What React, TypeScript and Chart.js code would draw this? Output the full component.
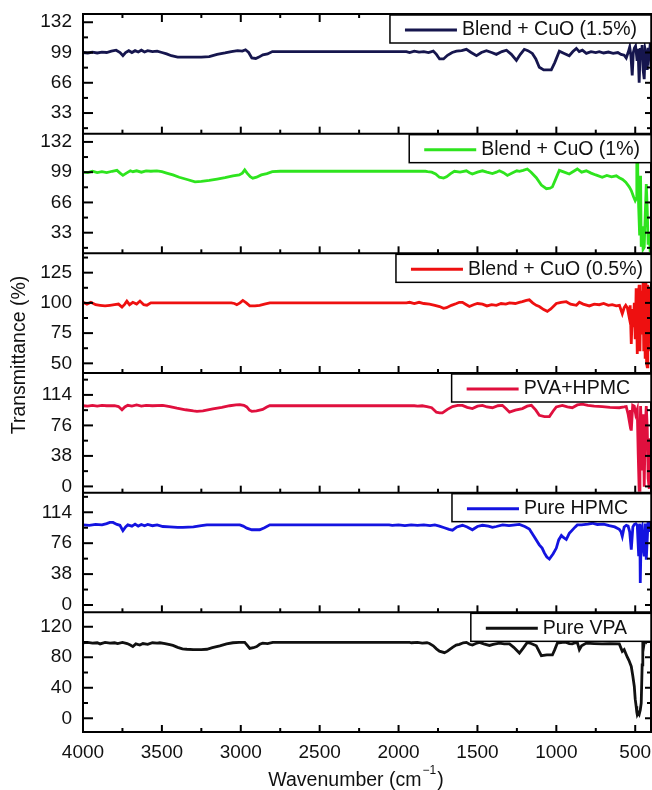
import React, { useEffect, useRef } from 'react';
import { Chart, registerables } from 'chart.js';

Chart.register(...registerables);

// ---- Data: [wavenumber (cm^-1), transmittance (%)] ----
const blendCuO15: [number, number][] = [
  [4000, 99], [3970, 98.5], [3940, 99.5], [3910, 98.5], [3880, 99.5], [3850, 99], [3820, 100.5], [3790, 101.5],
  [3765, 99], [3747, 95.5], [3730, 99], [3710, 101], [3690, 99], [3670, 101], [3650, 99.5], [3630, 101.5],
  [3610, 99.5], [3590, 101], [3560, 100], [3530, 100.5], [3500, 99], [3470, 97.5], [3440, 95.5], [3400, 94],
  [3350, 94], [3300, 94], [3250, 94], [3200, 94.5], [3150, 97], [3100, 98.5], [3060, 100], [3020, 101],
  [2990, 100.5], [2970, 102], [2950, 99], [2930, 93], [2905, 92.5], [2885, 94], [2860, 96.5], [2830, 97.5],
  [2800, 100], [2500, 100], [1950, 100], [1930, 99], [1900, 100.5], [1870, 99.5], [1840, 100], [1810, 99],
  [1780, 100.5], [1760, 97], [1740, 92], [1715, 92], [1690, 96], [1660, 99], [1633, 100.5], [1600, 101],
  [1570, 102.5], [1540, 99], [1506, 95.5], [1475, 99], [1443, 101], [1410, 99], [1380, 97], [1345, 100],
  [1316, 101.5], [1285, 97], [1253, 90.5], [1228, 97], [1203, 102.5], [1180, 101], [1152, 98], [1130, 92],
  [1108, 83], [1080, 80], [1050, 80], [1032, 80], [1010, 88], [981, 100.5], [950, 98], [918, 95.5],
  [895, 100], [873, 103.5], [855, 100], [835, 101.5], [810, 98], [780, 100], [750, 99], [728, 100],
  [700, 98.5], [670, 99.5], [640, 98], [610, 99], [590, 97], [570, 96], [557, 93], [545, 99],
  [535, 105], [527, 95], [519, 74], [512, 99], [505, 104], [498, 106], [494, 100], [488, 90],
  [482, 103], [475, 66], [468, 104], [462, 95], [456, 107], [450, 80], [443, 70], [437, 102],
  [430, 96], [424, 80], [418, 104], [412, 96], [406, 106], [400, 100],
];

const blendCuO1: [number, number][] = [
  [4000, 99], [3970, 98.5], [3940, 100], [3910, 98.5], [3880, 99.5], [3850, 98.5], [3815, 100], [3785, 101],
  [3765, 98], [3747, 95.5], [3725, 98], [3700, 100.5], [3684, 99.5], [3660, 100.5], [3630, 99], [3600, 100.5],
  [3570, 100], [3532, 100.5], [3500, 99.5], [3470, 98], [3430, 96], [3390, 93.5], [3340, 91], [3290, 88.5],
  [3250, 89], [3200, 90], [3150, 91.5], [3100, 93], [3050, 95], [3010, 96], [2990, 98], [2975, 101.5],
  [2960, 98], [2940, 94], [2924, 92.5], [2900, 93.5], [2870, 96], [2835, 97.5], [2800, 99.5], [2750, 100],
  [2400, 100], [2000, 100], [1830, 100], [1816, 99.5], [1790, 99], [1765, 97], [1741, 93.5], [1715, 92.5],
  [1696, 94], [1670, 97.5], [1646, 100], [1610, 99], [1570, 100.5], [1550, 98.5], [1532, 97], [1500, 99],
  [1468, 100.5], [1440, 99], [1405, 97.5], [1380, 99], [1361, 100.5], [1335, 98.5], [1310, 95.5], [1280, 98],
  [1250, 100.5], [1234, 100], [1210, 101], [1184, 102.5], [1160, 99], [1127, 93], [1095, 85], [1063, 81],
  [1040, 81.5], [1025, 83], [1003, 92], [981, 101], [950, 99], [918, 97], [890, 100], [867, 102.5],
  [840, 99], [810, 100.5], [780, 98], [750, 96], [709, 93.5], [680, 95.5], [650, 94], [620, 95],
  [601, 93], [580, 91], [560, 88], [538, 83], [525, 79], [510, 72], [500, 68], [494, 70],
  [490, 104], [487, 143], [484, 100], [478, 60], [472, 30], [466, 95], [462, 17.6], [456, 40],
  [450, 15], [443, 17], [437, 50], [430, 86], [424, 60], [418, 20], [411, 33], [405, 12], [400, 20],
];

const blendCuO05: [number, number][] = [
  [4000, 100.5], [3975, 99], [3950, 100.5], [3920, 98.5], [3892, 98], [3860, 97.5], [3829, 98], [3800, 98.5],
  [3775, 99], [3753, 96.5], [3735, 99], [3722, 101.5], [3705, 98.5], [3684, 100.5], [3660, 99], [3639, 101.5],
  [3615, 98.5], [3595, 98], [3570, 100], [3532, 100], [3400, 100], [3200, 100], [3060, 100], [3040, 99.5],
  [3025, 98.5], [3005, 100], [2987, 102], [2965, 100], [2943, 97.5], [2910, 97.5], [2880, 98], [2850, 99],
  [2816, 100], [2500, 100], [1950, 100], [1930, 100.5], [1900, 99.5], [1870, 100.5], [1840, 99.5], [1804, 99],
  [1770, 98], [1740, 97], [1715, 95.5], [1696, 96], [1665, 98], [1633, 99.5], [1615, 100.5], [1595, 100.5],
  [1570, 98.5], [1551, 97], [1525, 98.5], [1500, 99.5], [1468, 99], [1440, 97.5], [1410, 98.5], [1380, 98],
  [1350, 99.5], [1320, 99], [1297, 100], [1260, 99.5], [1235, 100.5], [1215, 101], [1190, 102], [1171, 102.5],
  [1150, 100], [1127, 98], [1108, 97], [1080, 94.5], [1057, 93], [1035, 95], [1000, 99.5], [970, 100.5],
  [937, 101], [910, 99], [873, 98], [854, 100.5], [830, 99], [791, 97.5], [760, 99], [728, 98.5],
  [700, 99.5], [670, 98], [646, 98.5], [620, 97.5], [600, 98], [582, 91], [570, 96], [560, 98],
  [550, 96], [538, 88], [532, 98], [525, 66], [518, 95], [512, 80], [506, 100], [500, 70],
  [494, 112], [487, 57.7], [481, 104], [475, 115], [470, 60], [465, 110], [460, 80], [456, 74],
  [450, 117], [446, 60], [443, 116], [437, 55], [432, 118], [428, 50], [424, 47], [420, 115],
  [416, 60], [411, 113], [406, 70], [402, 112], [400, 90],
];

const pvaHpmc: [number, number][] = [
  [4000, 100.5], [3970, 100], [3940, 101], [3910, 100], [3880, 101], [3850, 100.5], [3800, 100.5], [3775, 99.5],
  [3753, 95.5], [3735, 99], [3716, 101], [3690, 100], [3660, 101.5], [3630, 100], [3600, 101], [3560, 100.5],
  [3494, 101], [3450, 99.5], [3405, 97.5], [3350, 95.5], [3300, 94], [3278, 93.5], [3240, 94], [3177, 96.5],
  [3120, 98.5], [3070, 100.5], [3030, 101.5], [3006, 102], [2980, 101], [2962, 99], [2945, 95], [2930, 93.5],
  [2900, 94], [2861, 96], [2835, 99], [2816, 100.5], [2500, 100.5], [1900, 100.5], [1880, 100], [1850, 100.5],
  [1820, 99.5], [1790, 98], [1760, 92.5], [1740, 91.5], [1722, 91.5], [1690, 96], [1658, 99.5], [1625, 101],
  [1595, 101], [1565, 98.5], [1532, 97], [1500, 100], [1468, 101], [1440, 99], [1405, 98], [1370, 100.5],
  [1342, 101], [1320, 97], [1297, 92.5], [1260, 95], [1215, 97], [1185, 100], [1158, 101], [1130, 95],
  [1108, 88.5], [1075, 87], [1044, 87], [1020, 94], [1000, 99], [962, 101], [930, 99], [899, 98],
  [867, 101.5], [835, 102.5], [800, 101], [760, 100], [709, 99.5], [660, 98.5], [601, 98], [570, 99],
  [557, 99.5], [545, 90], [538, 82], [531, 95], [525, 69.5], [516, 101], [506, 100], [497, 90],
  [487, 96], [481, 40], [475, -5], [470, 60], [466, 100], [462, 78], [456, 20], [450, 90],
  [443, -0.4], [437, 70], [430, 100], [424, 75], [418, 10], [411, -3], [406, 60], [400, 10],
];

const pureHpmc: [number, number][] = [
  [4000, 98.5], [3960, 98], [3920, 99], [3880, 98.5], [3850, 100], [3830, 101.5], [3810, 101.5], [3785, 99],
  [3766, 98], [3747, 91.5], [3730, 96], [3716, 98.5], [3690, 97], [3670, 99.5], [3650, 97], [3630, 99],
  [3610, 97.5], [3590, 99], [3560, 97.5], [3530, 98.5], [3494, 96.5], [3450, 96], [3400, 95.5], [3367, 95.5],
  [3300, 96], [3250, 97.5], [3215, 98.5], [3100, 98.5], [3006, 98.5], [2985, 97], [2962, 94.5], [2930, 92.5],
  [2900, 92.5], [2880, 92.5], [2850, 95], [2816, 98.5], [2500, 98.5], [2060, 98.5], [2040, 98], [2000, 98.5],
  [1960, 97.5], [1920, 98.5], [1880, 98], [1840, 98.5], [1800, 97.5], [1770, 98.5], [1741, 97], [1710, 95],
  [1680, 93], [1658, 92], [1630, 96], [1595, 98], [1565, 96], [1532, 92.5], [1500, 96.5], [1468, 98],
  [1430, 97], [1405, 95.5], [1380, 96.5], [1340, 98.5], [1300, 97.5], [1260, 98.5], [1234, 99], [1200, 96.5],
  [1171, 93.5], [1140, 84], [1108, 74], [1090, 70], [1076, 64], [1060, 59], [1044, 56.5], [1020, 63],
  [1000, 70], [985, 80], [968, 85.5], [955, 83], [937, 80.5], [918, 88], [899, 92], [880, 96],
  [867, 98.5], [840, 98.5], [800, 99.5], [772, 100.5], [740, 99], [700, 99.5], [665, 97.5], [630, 96],
  [601, 93], [590, 90], [582, 84.5], [570, 96], [557, 98], [545, 97], [535, 90], [525, 68],
  [515, 96], [506, 99], [496, 100], [487, 98], [478, 60], [471, 100], [468, 27], [462, 90],
  [456, 95], [450, 70], [443, 60], [436, 100], [430, 55.7], [424, 80], [418, 104], [411, 105],
  [405, 90], [400, 100],
];

const pureVpa: [number, number][] = [
  [4000, 99], [3970, 99.5], [3940, 98.5], [3910, 99], [3892, 97.5], [3860, 99.5], [3829, 98.5], [3800, 99],
  [3780, 98], [3750, 99.5], [3720, 98], [3700, 96], [3684, 94], [3665, 97.5], [3640, 96], [3620, 98],
  [3590, 97], [3560, 99], [3530, 98.5], [3513, 99], [3480, 98], [3450, 96.5], [3430, 95.5], [3400, 93],
  [3370, 91], [3342, 90.5], [3300, 90], [3250, 90], [3215, 90.5], [3180, 92.5], [3133, 95], [3090, 97.5],
  [3050, 99], [3010, 99.5], [2975, 99.5], [2960, 96], [2943, 91.5], [2920, 92.5], [2899, 94], [2880, 97],
  [2861, 98.5], [2830, 98], [2797, 99.5], [2500, 99.5], [1930, 99.5], [1918, 99], [1880, 99.5], [1850, 98.5],
  [1820, 99], [1804, 98], [1780, 95], [1760, 91], [1741, 88], [1709, 86], [1690, 88], [1658, 93],
  [1635, 96], [1614, 97], [1590, 99], [1570, 99.5], [1550, 97], [1532, 96], [1510, 98], [1487, 99.5],
  [1460, 97.5], [1424, 95.5], [1400, 97], [1361, 98.5], [1330, 97.5], [1297, 97.5], [1270, 93], [1234, 85.5],
  [1210, 92], [1184, 99.5], [1160, 98], [1127, 95], [1095, 82], [1060, 83], [1025, 83], [1010, 90],
  [994, 98.5], [960, 99.5], [937, 99.5], [918, 98], [899, 97.5], [880, 99], [867, 99.5], [854, 90],
  [840, 95], [810, 98.5], [760, 98], [709, 97.5], [660, 98], [601, 97.5], [582, 87.7], [570, 90],
  [560, 85], [550, 80], [540, 76], [525, 68], [515, 55], [506, 42], [500, 25], [494, 15.6],
  [490, 8], [487, 4.6], [481, 7], [475, 5], [468, 11], [462, 20], [456, 70], [452, 100],
  [446, 95], [440, 103], [430, 100], [420, 103], [410, 101], [400, 102],
];

const seriesData = [blendCuO15, blendCuO1, blendCuO05, pvaHpmc, pureHpmc, pureVpa];
const seriesNames = ['Blend + CuO (1.5%)', 'Blend + CuO (1%)', 'Blend + CuO (0.5%)', 'PVA+HPMC', 'Pure HPMC', 'Pure VPA'];
const seriesColors = ['#16164e', '#2ee41e', '#ee1010', '#e0103e', '#1414e0', '#111111'];
const yIds = ['y1', 'y2', 'y3', 'y4', 'y5', 'y6'];
const yMins = [10.5, 10.5, 42, -7.8, -9, -18];
const yMaxs = [141, 141, 141, 141.3, 138.1, 138.9];
const yMajorTicks = [
  [33, 66, 99, 132], [33, 66, 99, 132], [50, 75, 100, 125],
  [0, 38, 76, 114], [0, 38, 76, 114], [0, 40, 80, 120],
];
const yMinorTicks = [
  [16.5, 49.5, 82.5, 115.5], [16.5, 49.5, 82.5, 115.5], [62.5, 87.5, 112.5, 137.5],
  [19, 57, 95, 133], [19, 57, 95, 133], [20, 60, 100],
];
const xMajorTicks = [4000, 3500, 3000, 2500, 2000, 1500, 1000, 500];
const xMinorTicks = [3750, 3250, 2750, 2250, 1750, 1250, 750];
const xMin = 400;
const xMax = 4000;
const yTitle = 'Transmittance (%)';
const xTitleMain = 'Wavenumber (cm';
const xTitleSup = '\u22121';
const xTitleEnd = ')';

// ---- Styles ----
const FONT_FAMILY = '"Liberation Sans", Arial, Helvetica, sans-serif';
const TICK_FONT_SIZE = 19;
const LABEL_FONT_SIZE = 19.5;
const legendRightPad = [14, 11, 8, 21, 23, 24];

const decorPlugin = {
  id: 'decor',
  afterDatasetsDraw(chart: any) {
    const ctx: CanvasRenderingContext2D = chart.ctx;
    const ca = chart.chartArea;
    const xs = chart.scales.x;
    ctx.save();
    ctx.strokeStyle = '#000';
    ctx.lineCap = 'butt';

    const seg = (x1: number, y1: number, x2: number, y2: number) => {
      ctx.beginPath();
      ctx.moveTo(x1, y1);
      ctx.lineTo(x2, y2);
      ctx.stroke();
    };

    // inward ticks
    ctx.lineWidth = 2;
    yIds.forEach((id, i) => {
      const ys = chart.scales[id];
      xMajorTicks.forEach((v) => {
        const px = xs.getPixelForValue(v);
        seg(px, ys.bottom, px, ys.bottom - 7);
        if (i === 0) seg(px, ys.top, px, ys.top + 8);
      });
      xMinorTicks.forEach((v) => {
        const px = xs.getPixelForValue(v);
        seg(px, ys.bottom, px, ys.bottom - 4);
        if (i === 0) seg(px, ys.top, px, ys.top + 4);
      });
      yMajorTicks[i].forEach((v) => {
        const py = ys.getPixelForValue(v);
        seg(ca.left, py, ca.left + 10, py);
        seg(ca.right, py, ca.right - 6, py);
      });
      yMinorTicks[i].forEach((v) => {
        if (v < yMins[i] || v > yMaxs[i]) return;
        const py = ys.getPixelForValue(v);
        seg(ca.left, py, ca.left + 5, py);
        seg(ca.right, py, ca.right - 4, py);
      });
    });

    // frame and separators
    ctx.lineWidth = 2;
    ctx.strokeRect(ca.left, ca.top, ca.right - ca.left, ca.bottom - ca.top);
    yIds.forEach((id, i) => {
      if (i === yIds.length - 1) return;
      const ys = chart.scales[id];
      seg(ca.left, ys.bottom, ca.right, ys.bottom);
    });

    // legends (one per panel)
    ctx.font = `${LABEL_FONT_SIZE}px ${FONT_FAMILY}`;
    yIds.forEach((id, i) => {
      const ys = chart.scales[id];
      const tw = ctx.measureText(seriesNames[i]).width;
      const w = 15 + 52 + 5 + tw + legendRightPad[i];
      const left = ca.right - w;
      const top = ys.top + 1;
      const h = 28;
      ctx.fillStyle = '#fff';
      ctx.fillRect(left, top, w, h);
      ctx.lineWidth = 1.5;
      ctx.strokeStyle = '#000';
      ctx.strokeRect(left, top, w, h);
      ctx.lineWidth = 3;
      ctx.strokeStyle = seriesColors[i];
      seg(left + 15, top + h / 2 + 1, left + 67, top + h / 2 + 1);
      ctx.fillStyle = '#111';
      ctx.textAlign = 'left';
      ctx.textBaseline = 'middle';
      ctx.fillText(seriesNames[i], left + 72, top + h / 2 + 1);
    });

    // y title
    ctx.save();
    ctx.translate(20, 355);
    ctx.rotate(-Math.PI / 2);
    ctx.textAlign = 'center';
    ctx.textBaseline = 'middle';
    ctx.fillStyle = '#111';
    ctx.font = `${LABEL_FONT_SIZE}px ${FONT_FAMILY}`;
    ctx.fillText(yTitle, 0, 0);
    ctx.restore();

    // x title with superscript
    ctx.fillStyle = '#111';
    ctx.textAlign = 'left';
    ctx.textBaseline = 'alphabetic';
    ctx.font = `${LABEL_FONT_SIZE}px ${FONT_FAMILY}`;
    const wMain = ctx.measureText(xTitleMain).width;
    const wEnd = ctx.measureText(xTitleEnd).width;
    ctx.font = `12px ${FONT_FAMILY}`;
    const wSup = ctx.measureText(xTitleSup).width;
    const total = wMain + wSup + 2 + wEnd;
    const cx = (ca.left + ca.right) / 2 - 11;
    const base = ca.bottom + 54;
    let x0 = cx - total / 2;
    ctx.font = `${LABEL_FONT_SIZE}px ${FONT_FAMILY}`;
    ctx.fillText(xTitleMain, x0, base);
    x0 += wMain + 1;
    ctx.font = `12px ${FONT_FAMILY}`;
    ctx.fillText(xTitleSup, x0, base - 12);
    x0 += wSup + 1;
    ctx.font = `${LABEL_FONT_SIZE}px ${FONT_FAMILY}`;
    ctx.fillText(xTitleEnd, x0, base);

    ctx.restore();
  },
};

export default function App() {
  const canvasRef = useRef<HTMLCanvasElement | null>(null);

  useEffect(() => {
    if (!canvasRef.current) return;
    const tickFont = { family: FONT_FAMILY, size: TICK_FONT_SIZE };

    const scales: any = {
      x: {
        type: 'linear',
        position: 'bottom',
        reverse: true,
        min: xMin,
        max: xMax,
        grid: { display: false, drawTicks: false },
        border: { display: false },
        afterBuildTicks: (s: any) => {
          s.ticks = xMajorTicks.map((v) => ({ value: v }));
        },
        afterFit: (s: any) => {
          s.height = 58;
          s.paddingLeft = 0;
          s.paddingRight = 0;
        },
        ticks: {
          font: tickFont,
          color: '#111',
          padding: 9,
          autoSkip: false,
          maxRotation: 0,
          callback: (v: any) => String(v),
        },
      },
    };

    yIds.forEach((id, i) => {
      scales[id] = {
        type: 'linear',
        position: 'left',
        stack: 'panels',
        stackWeight: 1,
        weight: yIds.length - i,
        min: yMins[i],
        max: yMaxs[i],
        grid: { display: false, drawTicks: false },
        border: { display: false },
        afterBuildTicks: (s: any) => {
          s.ticks = yMajorTicks[i].map((v) => ({ value: v }));
        },
        afterFit: (s: any) => {
          s.width = 83;
          s.paddingTop = 0;
          s.paddingBottom = 0;
        },
        ticks: {
          font: tickFont,
          color: '#111',
          padding: 11,
          autoSkip: false,
          callback: (v: any) => String(v),
        },
      };
    });

    const chart = new Chart(canvasRef.current, {
      type: 'line',
      data: {
        datasets: seriesData.map((arr, i) => ({
          label: seriesNames[i],
          data: arr.map(([x, y]) => ({ x, y })),
          xAxisID: 'x',
          yAxisID: yIds[i],
          borderColor: seriesColors[i],
          backgroundColor: seriesColors[i],
          borderWidth: 2.8,
          pointRadius: 0,
          tension: 0,
          fill: false,
        })),
      },
      options: {
        animation: false,
        responsive: false,
        maintainAspectRatio: false,
        layout: { padding: { top: 14, right: 1, bottom: 0, left: 0 } },
        plugins: {
          legend: { display: false },
          tooltip: { enabled: false },
        },
        scales,
      },
      plugins: [decorPlugin],
    } as any);

    return () => chart.destroy();
  }, []);

  return (
    <div style={{ position: 'absolute', left: 0, top: 0, width: 652, height: 790, background: '#fff' }}>
      <canvas ref={canvasRef} width={652} height={790} style={{ display: 'block' }} />
    </div>
  );
}
